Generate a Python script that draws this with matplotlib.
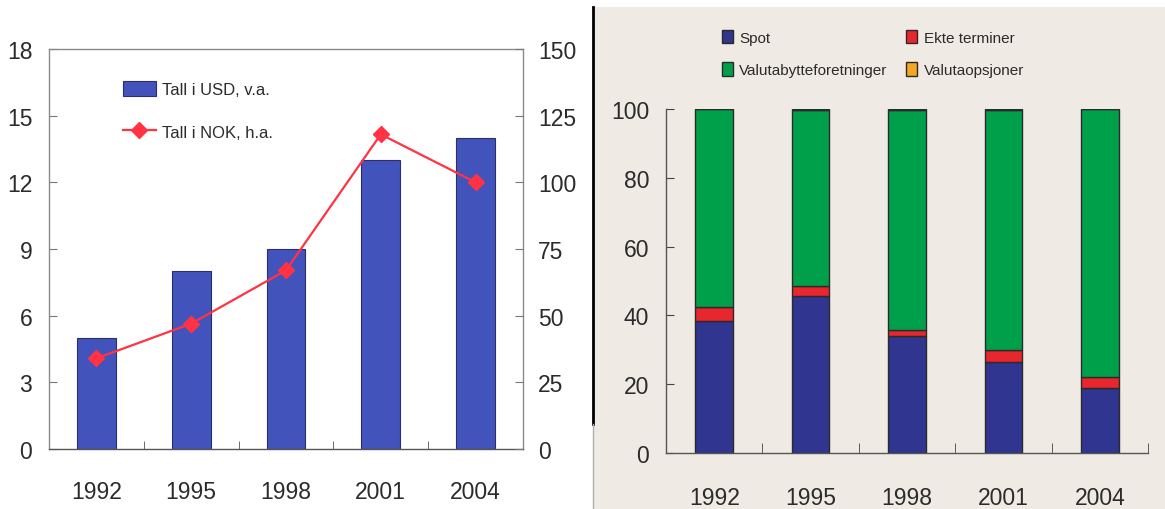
import matplotlib
matplotlib.use("Agg")
import matplotlib.pyplot as plt
from matplotlib.patches import Rectangle, Patch
from matplotlib.lines import Line2D

plt.rcParams['font.family'] = ['Liberation Sans', 'DejaVu Sans']

years = ["1992", "1995", "1998", "2001", "2004"]

# Turnover, left panel
usd_values = [5, 8, 9, 13, 14]          # left axis (USD)
nok_values = [34, 47, 67, 118, 100]     # right axis (NOK)

# Composition in percent, right panel
spot = [38.5, 45.6, 34.0, 26.4, 19.0]
ekte_terminer = [3.8, 3.0, 1.8, 3.4, 3.2]
valutaopsjoner = [0.0, 0.4, 0.4, 0.4, 0.0]
valutabytte = [100 - s - e - o for s, e, o in zip(spot, ekte_terminer, valutaopsjoner)]

left_ticks = [0, 3, 6, 9, 12, 15, 18]
right_ticks = [0, 25, 50, 75, 100, 125, 150]
pct_ticks = [0, 20, 40, 60, 80, 100]

txt = "#2b2b2b"
tick_fs = 16.5
fig = plt.figure(figsize=(11.65, 5.10), dpi=100)

# ---- right panel background
fig.patches.append(Rectangle((593 / 1165, 0), 1 - 593 / 1165, 502 / 510,
                             transform=fig.transFigure, facecolor="#EFEBE4",
                             edgecolor="none", zorder=-10))
fig.lines.append(Line2D([593 / 1165, 593 / 1165], [85 / 510, 502 / 510],
                        transform=fig.transFigure, color="black", lw=2.0,
                        zorder=-5))
fig.lines.append(Line2D([593 / 1165, 593 / 1165], [0, 85 / 510],
                        transform=fig.transFigure, color="#b0b0b0", lw=1.0,
                        zorder=-5))

# ---- left panel
ax1 = fig.add_axes([49 / 1165, 60 / 510, 474 / 1165, 400 / 510])
x = list(range(len(years)))
ax1.bar(x, usd_values, width=0.41, color="#4353BC", edgecolor="#2a2f6a",
        linewidth=0.8, zorder=2, label="Tall i USD, v.a.")
ax1.set_xlim(-0.5, 4.5)
ax1.set_ylim(0, 18)
ax1.set_yticks(left_ticks)
ax1.set_xticks(x)
ax1.set_xticklabels(years)
ax1.set_xticks([0.5, 1.5, 2.5, 3.5], minor=True)
ax1.tick_params(axis="x", which="major", length=0, pad=22, labelsize=tick_fs, colors=txt)
ax1.tick_params(axis="x", which="minor", direction="in", length=6, color="#555555")
ax1.tick_params(axis="y", direction="in", length=6, pad=12, labelsize=tick_fs,
                colors=txt, color="#777777")
for s in ax1.spines.values():
    s.set_color("#8a8a8a")
    s.set_linewidth(1.0)
ax1.spines["bottom"].set_color("#555555")

ax2 = ax1.twinx()
ax2.plot(x, nok_values, color="#FF3344", lw=1.6, marker="D", markersize=8.5,
         zorder=3, label="Tall i NOK, h.a.")
ax2.set_ylim(0, 150)
ax2.set_yticks(right_ticks)
ax2.tick_params(axis="y", direction="in", length=6, pad=11, labelsize=tick_fs,
                colors=txt, color="#777777")
for s in ax2.spines.values():
    s.set_visible(False)

h1, l1 = ax1.get_legend_handles_labels()
h2, l2 = ax2.get_legend_handles_labels()
ax2.legend(h1 + h2, l1 + l2, loc="upper left",
           bbox_to_anchor=(0.124, 0.957), frameon=False, fontsize=12,
           handlelength=2.0, handleheight=0.95, handletextpad=0.35,
           labelspacing=1.6, labelcolor=txt)

# ---- right panel
ax3 = fig.add_axes([666 / 1165, 56 / 510, 482 / 1165, 344 / 510])
ax3.set_facecolor("none")
w = 0.39
ec = "#2a2a2a"
ax3.bar(x, spot, width=w, color="#303590", edgecolor=ec, lw=1.0, label="Spot")
bottom = spot[:]
ax3.bar(x, ekte_terminer, width=w, bottom=bottom, color="#E8262D",
        edgecolor=ec, lw=1.0, label="Ekte terminer")
bottom = [a + b for a, b in zip(bottom, ekte_terminer)]
ax3.bar(x, valutabytte, width=w, bottom=bottom, color="#00A04B",
        edgecolor=ec, lw=1.0, label="Valutabytteforetninger")
bottom = [a + b for a, b in zip(bottom, valutabytte)]
ax3.bar(x, valutaopsjoner, width=w, bottom=bottom, color="#F5A623",
        edgecolor=ec, lw=1.0, label="Valutaopsjoner")

ax3.set_xlim(-0.5, 4.5)
ax3.set_ylim(0, 100)
ax3.set_yticks(pct_ticks)
ax3.set_xticks(x)
ax3.set_xticklabels(years)
ax3.set_xticks([0.5, 1.5, 2.5, 3.5, 4.5], minor=True)
ax3.tick_params(axis="x", which="major", length=0, pad=24, labelsize=tick_fs, colors=txt)
ax3.tick_params(axis="x", which="minor", direction="in", length=7, color="#444444")
ax3.tick_params(axis="y", direction="in", length=6, pad=12, labelsize=tick_fs,
                colors=txt, color="#444444")
ax3.spines["top"].set_visible(False)
ax3.spines["right"].set_visible(False)
for side in ("left", "bottom"):
    ax3.spines[side].set_color("#555555")
    ax3.spines[side].set_linewidth(1.0)

handles = [Patch(facecolor=c, edgecolor=ec, lw=1.0) for c in
           ("#303590", "#00A04B", "#E8262D", "#F5A623")]
labels = ["Spot", "Valutabytteforetninger", "Ekte terminer", "Valutaopsjoner"]
fig.legend(handles, labels, ncol=2, loc="upper left",
           bbox_to_anchor=(708 / 1165, 1 - 17 / 510), frameon=False, fontsize=11,
           handlelength=0.75, handleheight=1.0, handletextpad=0.4,
           columnspacing=1.2, labelspacing=1.15, labelcolor=txt)

fig.savefig("out.png", dpi=100)
